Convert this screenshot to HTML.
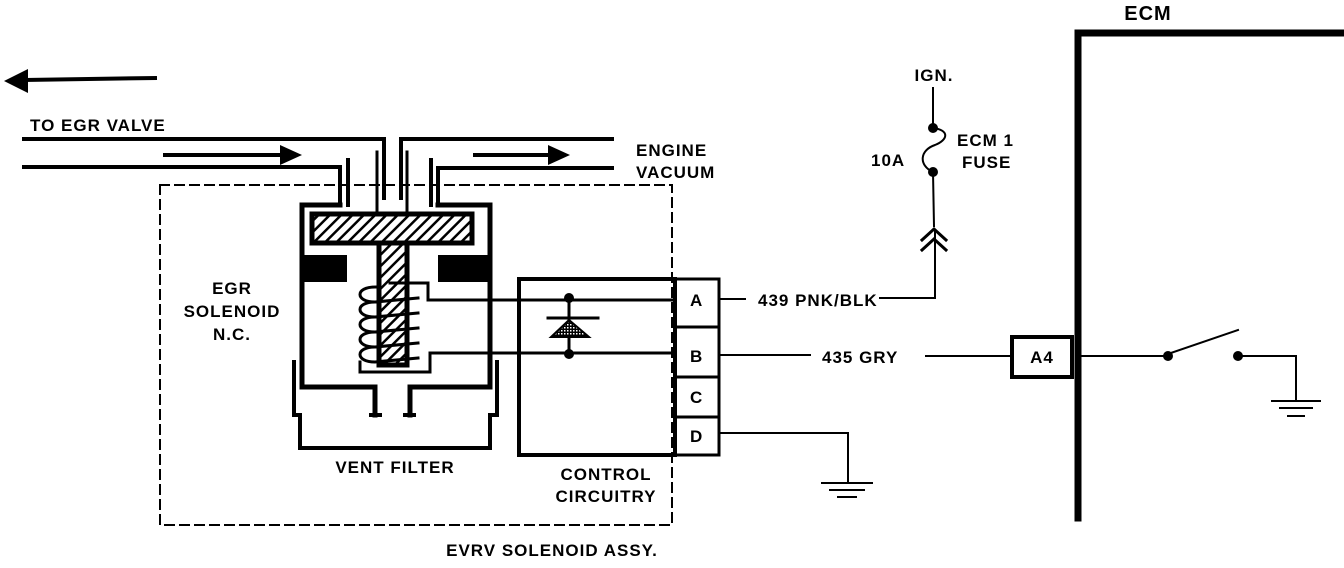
<!DOCTYPE html>
<html><head><meta charset="utf-8"><style>
html,body{margin:0;padding:0;background:#fff;}
svg{display:block}
text{font-family:"Liberation Sans",sans-serif;font-weight:bold;font-size:17px;letter-spacing:1px;fill:#000}
</style></head><body>
<svg width="1344" height="568" viewBox="0 0 1344 568" xmlns="http://www.w3.org/2000/svg">
<defs>
<pattern id="h" width="8" height="8" patternUnits="userSpaceOnUse" patternTransform="rotate(45)">
<rect width="8" height="8" fill="#fff"/><rect width="2.5" height="8" fill="#000"/></pattern>
<pattern id="d" width="3" height="3" patternUnits="userSpaceOnUse"><rect width="3" height="3" fill="#000"/><rect width="1.5" height="1.5" fill="#fff"/></pattern>
</defs>
<g fill="none" stroke="#000" stroke-linecap="square">
<line x1="25" y1="80" x2="155" y2="78" stroke-width="4"/>
<polygon points="4,81 28,69 28,93" fill="#000" stroke="none"/>
<!-- tubes -->
<polyline points="24,139 384,139 384,198" stroke-width="4"/>
<polyline points="24,167 340,167 340,205" stroke-width="4"/>
<line x1="348" y1="160" x2="348" y2="205" stroke-width="4"/>
<line x1="377" y1="152" x2="377" y2="212" stroke-width="3"/>
<polyline points="612,139 401,139 401,198" stroke-width="4"/>
<polyline points="612,168 438,168 438,205" stroke-width="4"/>
<line x1="407" y1="152" x2="407" y2="212" stroke-width="3"/>
<line x1="431" y1="160" x2="431" y2="205" stroke-width="4"/>
<line x1="165" y1="155" x2="283" y2="155" stroke-width="4"/>
<polygon points="280,145 302,155 280,165" fill="#000" stroke="none"/>
<line x1="475" y1="155" x2="550" y2="155" stroke-width="4"/>
<polygon points="548,145 570,155 548,165" fill="#000" stroke="none"/>
<rect x="160" y="185" width="512" height="340" stroke-width="2" stroke-dasharray="9,6"/>
<!-- solenoid body -->
<polyline points="340,205 302,205 302,387 375,387 375,415" stroke-width="5"/>
<polyline points="438,205 490,205 490,387 410,387 410,415" stroke-width="5"/>
<line x1="371" y1="415" x2="380" y2="415" stroke-width="4"/>
<line x1="405" y1="415" x2="414" y2="415" stroke-width="4"/>
<rect x="312" y="214" width="160" height="29" fill="url(#h)" stroke-width="5"/>
<rect x="379" y="243" width="28" height="122" fill="url(#h)" stroke-width="5"/>
<rect x="300" y="255" width="47" height="27" fill="#000" stroke="none"/>
<rect x="438" y="255" width="54" height="27" fill="#000" stroke="none"/>
<path d="M375,287 C355,287 355,302 375,302 L418,298 M375,302 C355,302 355,317 375,317 L418,313 M375,317 C355,317 355,332 375,332 L418,328 M375,332 C355,332 355,347 375,347 L418,343 M375,347 C355,347 355,362 375,362 L418,358" stroke-width="3"/>
<polyline points="390,283 428,283 428,300 675,300" stroke-width="3"/>
<polyline points="360,362 360,372 430,372 430,353 675,353" stroke-width="3"/>
<polyline points="294,362 294,415 300,415 300,448 490,448 490,415 497,415 497,362" stroke-width="4"/>
<!-- control box -->
<rect x="519" y="279" width="156" height="176" stroke-width="4"/>
<rect x="675" y="279" width="44" height="176" stroke-width="3"/>
<line x1="675" y1="327" x2="719" y2="327" stroke-width="3"/>
<line x1="675" y1="377" x2="719" y2="377" stroke-width="3"/>
<line x1="675" y1="417" x2="719" y2="417" stroke-width="3"/>
<line x1="569" y1="297" x2="569" y2="354" stroke-width="3"/>
<line x1="548" y1="318" x2="598" y2="318" stroke-width="3"/>
<polygon points="569,320 551,337 589,337" fill="url(#d)" stroke-width="2"/>
<!-- wires -->
<line x1="720" y1="299" x2="745" y2="299" stroke-width="2"/>
<polyline points="880,298 935,298 935,232" stroke-width="2"/>
<line x1="720" y1="355" x2="810" y2="355" stroke-width="2"/>
<line x1="926" y1="356" x2="1010" y2="356" stroke-width="2"/>
<polyline points="720,433 848,433 848,482" stroke-width="2"/>
<line x1="822" y1="483" x2="872" y2="483" stroke-width="2"/>
<line x1="830" y1="490" x2="864" y2="490" stroke-width="2"/>
<line x1="838" y1="497" x2="856" y2="497" stroke-width="2"/>
<line x1="933" y1="88" x2="933" y2="128" stroke-width="2"/>
<path d="M933,128 C950,130 948,140 935,145 C920,150 918,165 933,172" stroke-width="2"/>
<line x1="933" y1="172" x2="934" y2="226" stroke-width="2"/>
<polyline points="922,240 934,229 946,240" stroke-width="3"/>
<polyline points="922,250 934,239 946,250" stroke-width="3"/>
<polyline points="1078,518 1078,33 1344,33" stroke-width="7"/>
<rect x="1012" y="337" width="60" height="40" stroke-width="4"/>
<line x1="1080" y1="356" x2="1168" y2="356" stroke-width="2"/>
<line x1="1168" y1="354" x2="1238" y2="330" stroke-width="2"/>
<polyline points="1238,356 1296,356 1296,400" stroke-width="2"/>
<line x1="1272" y1="401" x2="1320" y2="401" stroke-width="2"/>
<line x1="1280" y1="408" x2="1312" y2="408" stroke-width="2"/>
<line x1="1288" y1="416" x2="1304" y2="416" stroke-width="2"/>
</g>
<g fill="#000">
<circle cx="569" cy="298" r="5"/><circle cx="569" cy="354" r="5"/>
<circle cx="933" cy="128" r="5"/><circle cx="933" cy="172" r="5"/>
<circle cx="1168" cy="356" r="5"/><circle cx="1238" cy="356" r="5"/>
</g>
<text x="30" y="131">TO EGR VALVE</text>
<text x="636" y="156">ENGINE</text>
<text x="636" y="178">VACUUM</text>
<text x="232" y="294" text-anchor="middle">EGR</text>
<text x="232" y="317" text-anchor="middle">SOLENOID</text>
<text x="232" y="340" text-anchor="middle">N.C.</text>
<text x="395" y="473" text-anchor="middle">VENT FILTER</text>
<text x="606" y="480" text-anchor="middle">CONTROL</text>
<text x="606" y="502" text-anchor="middle">CIRCUITRY</text>
<text x="552" y="556" text-anchor="middle">EVRV SOLENOID ASSY.</text>
<text x="690" y="306">A</text>
<text x="690" y="362">B</text>
<text x="690" y="403">C</text>
<text x="690" y="442">D</text>
<text x="758" y="306">439 PNK/BLK</text>
<text x="822" y="363">435 GRY</text>
<text x="1042" y="363" text-anchor="middle">A4</text>
<text x="934" y="81" text-anchor="middle">IGN.</text>
<text x="871" y="166">10A</text>
<text x="957" y="146">ECM 1</text>
<text x="962" y="168">FUSE</text>
<text x="1148" y="20" text-anchor="middle" style="font-size:20px">ECM</text>
</svg>
</body></html>
